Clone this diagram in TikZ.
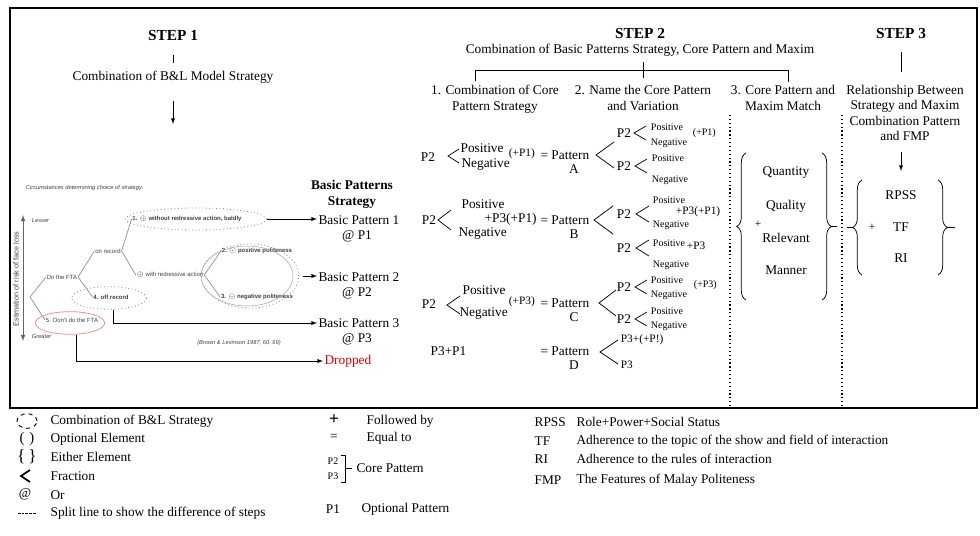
\documentclass[tikz,border=0pt]{standalone}
\usepackage{fontspec}
\setmainfont{Liberation Serif}
\setsansfont{Liberation Sans}
\usepackage{tikz}
\usetikzlibrary{arrows,shapes}
\usetikzlibrary{decorations.pathreplacing}
\tikzstyle{txt}=[inner sep=1pt,font=\fontsize{10}{12}\selectfont]
\tikzstyle{head}=[txt,align=center]
\tikzstyle{steplabel}=[inner sep=1pt,font=\fontsize{11.5}{13}\selectfont\bfseries]
\tikzstyle{small}=[inner sep=0.5pt,font=\fontsize{7.5}{8}\selectfont]
\tikzstyle{extra}=[inner sep=0.5pt,font=\fontsize{8.5}{9}\selectfont]
\tikzstyle{tree}=[inner sep=0.5pt,text=black!75,font=\sffamily\fontsize{4.5}{5}\selectfont]
\tikzstyle{treebold}=[tree,font=\sffamily\bfseries\fontsize{4.5}{5}\selectfont]
\tikzstyle{treeit}=[tree,font=\sffamily\itshape\fontsize{4.3}{5}\selectfont]
\tikzstyle{branch}=[draw,black!45,line width=0.5pt]
\tikzstyle{blellipse}=[ellipse,draw=black!50,dotted,line width=0.6pt,inner sep=0pt]
\tikzstyle{edge}=[draw,-latex,line width=0.5pt]
\tikzstyle{frac}=[draw,line width=0.55pt]
\tikzstyle{splitline}=[draw,dotted,line width=0.9pt]
\tikzstyle{curly}=[draw,decorate,decoration={brace,amplitude=7pt},line width=0.55pt]

\begin{document}
\begin{tikzpicture}[x=0.75pt,y=-0.75pt]
    \useasboundingbox (0,0) rectangle (980,535);
    % Frame round the three steps
    \draw[line width=2.2pt] (10,8) rectangle (977,408);

    % Step 1: the B&L model
    \node[steplabel] (step1) at (173,35) {STEP 1};
    \node[txt] (comb1) at (173,77) {Combination of B\&L Model Strategy};
    \draw[line width=0.5pt] ([yshift=-10pt]step1.south) -- ([yshift=5pt]comb1.north);
    \coordinate (bl) at (173,124);
    \draw[edge] ([yshift=-12pt]comb1.south) -- (bl);

    \node[treeit,anchor=west] (circ) at (25,188) {Circumstances determining choice of strategy:};
    \coordinate (lesser) at (23,215);
    \coordinate (greater) at (23,341);
    \draw[latex-latex,black!60,line width=0.6pt] (lesser) -- (greater);
    \node[treeit,anchor=west] (less) at (31,221) {Lesser};
    \node[treeit,anchor=west] (great) at (31,337) {Greater};
    \node[tree,rotate=90,font=\sffamily\fontsize{5.5}{6}\selectfont] (risk) at (16,279) {Estimation of risk of face loss};

    % First we draw the strategies
    \coordinate (root) at (30,297);
    \node[tree] (dofta) at (62,277) {Do the FTA};
    \node[tree] (dont) at (72,320) {5. Don't do the FTA};
    \node[tree] (onrec) at (108,251) {on record};
    \node[treebold] (offrec) at (111,297) {4. off record};
    \node[treebold] (bald) at (187,219) {1. $\oplus$ without redressive action, baldly};
    \node[tree] (withred) at (170,275) {$\oplus$ with redressive action};
    \node[treebold] (pospol) at (257,251) {2. $\odot$ positive politeness};
    \node[treebold] (negpol) at (257,297) {3. $\ominus$ negative politeness};

    % Connect strategies with branches
    \foreach \source/ \dest in {root/dofta.west, root/dont.west, dofta.east/onrec.west, dofta.east/offrec.west,
        onrec.east/bald.west, onrec.east/withred.west, withred.east/pospol.west, withred.east/negpol.west}
        \path[branch] (\source) -- (\dest);

    \node[blellipse,minimum width=106pt,minimum height=16.5pt] (e1) at (196,219) {};
    \node[blellipse,minimum width=73pt,minimum height=48pt] (e23) at (250,276) {};
    \node[blellipse,solid,draw=black!35,line width=0.4pt,minimum width=69pt,minimum height=45pt] (e23b) at (247,276) {};
    \node[blellipse,minimum width=56pt,minimum height=17pt] (e4) at (109,298) {};
    \node[blellipse,solid,draw=red!45,minimum width=52pt,minimum height=17pt] (e5) at (70,323) {};
    \node[treeit] (src) at (239,343) {(Brown \& Levinson 1987, 60, 69)};

    % Basic patterns
    \node[txt,font=\fontsize{10}{12}\selectfont\bfseries,align=center] (bps) at (352,194) {Basic Patterns\\Strategy};
    \foreach \y/ \n in {220/1, 277/2, 323/3} {
        \node[txt,anchor=west] (bp\n) at (317,\y) {Basic Pattern \n};
        \node[txt] (or\n) at (357,{\y+16}) {@ P\n};
    }
    \node[txt,anchor=west,text=red!85!black] (drop) at (323,361) {Dropped};

    \draw[edge] (e1.east) -- (e1.east -| bp1.west);
    \draw[edge] ([xshift=3pt]e23.east) -- (e23.east -| bp2.west);
    \draw[edge] (e4.-70) |- (bp3.west);
    \draw[edge] (e5.-60) |- (drop.west);

    % Step 2: core patterns
    \node[steplabel] (step2) at (640,33) {STEP 2};
    \node[txt] (comb2) at (640,50) {Combination of Basic Patterns Strategy, Core Pattern and Maxim};
    \draw[line width=0.5pt] (475,81) |- (788,70) -- (788,82);
    \draw[line width=0.5pt] (643,62) -- (643,78);
    \node[head] (h1) at (495,99) {1. Combination of Core\\Pattern Strategy};
    \node[head] (h2) at (643,98) {2. Name the Core Pattern\\and Variation};
    \node[head] (h3) at (783,98) {3. Core Pattern and\\Maxim Match};

    % split lines between the steps
    \draw[splitline] (730,115) -- (730,407);
    \draw[splitline] (842,115) -- (842,407);

    % Column 1
    \foreach \pos/ \name in {{(428,157)/pa},{(429,220)/pb},{(429,304)/pc}}
        \node[txt] (\name) at \pos {P2};
    \foreach \pos/ \name in {{(459,148)/posa},{(460,204)/posb},{(461,290)/posc}}
        \node[txt,anchor=west] (\name) at \pos {Positive};
    \foreach \pos/ \name in {{(460,165)/nega},{(457,234)/negb},{(458,314)/negc}}
        \node[txt,anchor=west] (\name) at \pos {Negative};
    \node[extra,anchor=west] (opta) at (508,154) {(+P1)};
    \node[txt,anchor=west] (optb) at (483,219) {+P3(+P1)};
    \node[extra,anchor=west] (optc) at (508,302) {(+P3)};
    \node[txt,anchor=west] (pd) at (429,351) {P3+P1};
    \foreach \y/ \name/ \l in {155/pata/A, 220/patb/B, 303/patc/C, 351/patd/D} {
        \node[txt,anchor=west] (\name) at (539,\y) {= Pattern};
        \node[txt] (l\name) at (574,{\y+14}) {\l};
    }

    % Column 2
    \foreach \pos/ \name in {{(624,133)/qa1},{(624,166)/qa2},{(624,214)/qb1},{(624,248)/qb2},{(624,287)/qc1},{(624,319)/qc2}}
        \node[txt] (\name) at \pos {P2};
    \foreach \pos/ \name in {{(650,127)/ua1},{(651,158)/ua2},{(652,200)/ub1},{(652,243)/ub2},{(650,280)/uc1},{(650,311)/uc2}}
        \node[small,anchor=west] (\name) at \pos {Positive};
    \foreach \pos/ \name in {{(650,143)/va1},{(651,180)/va2},{(652,225)/vb1},{(652,265)/vb2},{(650,295)/vc1},{(650,326)/vc2}}
        \node[small,anchor=west] (\name) at \pos {Negative};
    \node[small,anchor=west] (wa1) at (692,133) {(+P1)};
    \node[extra,anchor=west] (wb1) at (675,212) {+P3(+P1)};
    \node[extra,anchor=west] (wb2) at (686,246) {+P3};
    \node[small,anchor=west] (wc1) at (693,285) {(+P3)};
    \node[extra,anchor=west] (qd1) at (620,340) {P3+(+P!)};
    \node[extra,anchor=west] (qd2) at (620,365) {P3};

    % fraction marks
    \foreach \x/ \y/ \w/ \h in {448/156/11/7, 438/220/13/10, 447/305/13/9,
        634/133/12/7, 635/166/12/7, 636/214/13/8, 636/248/13/8, 635/287/12/7, 635/319/12/7,
        596/155/18/13, 594/220/19/14, 599/303/17/13, 600/352/18/12}
        \draw[frac] ({\x+\w},{\y-\h}) -- (\x,\y) -- ({\x+\w},{\y+\h});

    % Column 3: maxims
    \foreach \y/ \name in {173/Quantity, 206/Quality, 238/Relevant, 270/Manner}
        \node[txt] (\name) at (786,\y) {\name};
    \node[extra] (plusm) at (758,224) {+};
    \draw[curly] (746,300) -- (746,153);
    \draw[curly] (822,153) -- (822,300);
    \draw[line width=0.55pt] (831,226.5) -- (837,226.5);

    % Step 3: FMP
    \node[steplabel] (step3) at (901,33) {STEP 3};
    \node[head,font=\fontsize{10}{11.5}\selectfont] (rel) at (905,113) {Relationship Between\\Strategy and Maxim\\Combination Pattern\\and FMP};
    \draw[line width=0.5pt] ([yshift=-9pt]step3.south) -- ([yshift=9pt]step3.south |- rel.north);
    \coordinate (fmp) at (901,171);
    \draw[edge] ([yshift=-7pt]fmp |- rel.south) -- (fmp);
    \foreach \y/ \name in {195/RPSS, 227/TF, 258/RI}
        \node[txt] (\name) at (901,\y) {\name};
    \node[extra] (plusf) at (872,227) {+};
    \draw[curly] (862,275) -- (862,180);
    \draw[curly] (938,180) -- (938,275);
    \draw[line width=0.55pt] (853,227.5) -- (847,227.5);
    \draw[line width=0.55pt] (947,227.5) -- (955,227.5);

    % Legend
    \foreach \y/ \t [count=\i] in {421/Combination of B\&L Strategy, 439/Optional Element, 457/Either Element,
        476/Fraction, 495/Or, 513/Split line to show the difference of steps}
        \node[txt,anchor=west] (lg\i) at (49,\y) {\t};
    \node[ellipse,draw,dashed,line width=0.7pt,minimum width=15pt,minimum height=11pt,inner sep=0pt] (sy1) at (27,421) {};
    \node[txt,font=\fontsize{11}{12}\selectfont] (sy2) at (27,439) {(\,\,)};
    \node[txt,font=\fontsize{13}{14}\selectfont] (sy3) at (27,457) {\{\,\}};
    \draw[line width=1.3pt] (30,470) -- (21,476) -- (30,482);
    \node[txt] (sy5) at (25,494) {@};
    \draw[dashed,dash pattern=on 2pt off 0.8pt,line width=0.5pt] (18,513) -- (36,513);

    \node[txt,font=\fontsize{13}{14}\selectfont\bfseries] (sy6) at (334,420) {+};
    \node[txt,anchor=west] (lg7) at (365,421) {Followed by};
    \node[txt] (sy7) at (334,437) {=};
    \node[txt,anchor=west] (lg8) at (365,438) {Equal to};
    \node[small] (sy8) at (333,461) {P2};
    \node[small] (sy9) at (333,476) {P3};
    \draw[line width=0.6pt] (341,455) -- (345,455) -- (345,482) -- (341,482);
    \draw[line width=0.6pt] (345,468) -- (352,468);
    \node[txt,anchor=west] (lg9) at (355,468) {Core Pattern};
    \node[txt] (sy10) at (333,509) {P1};
    \node[txt,anchor=west] (lg10) at (360,509) {Optional Pattern};

    \foreach \y/ \ab/ \t [count=\i] in {422/RPSS/Role+Power+Social Status, 441/TF/Adherence to the topic of the show and field of interaction,
        459/RI/Adherence to the rules of interaction, 480/FMP/The Features of Malay Politeness} {
        \node[txt,anchor=west] (ab\i) at (533,\y) {\ab};
        \node[txt,anchor=west] (ex\i) at (575,\y) {\t};
    }
\end{tikzpicture}
\end{document}
